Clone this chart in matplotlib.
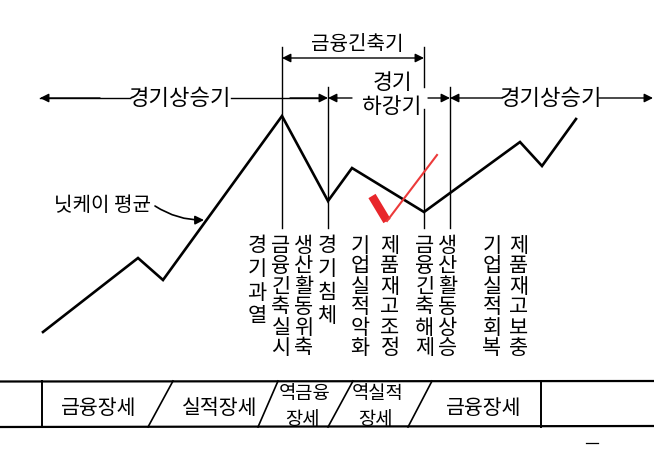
import numpy as np
import matplotlib
matplotlib.use("Agg")
import matplotlib.pyplot as plt

plt.rcParams['font.family'] = ['Noto Sans CJK KR', 'DejaVu Sans']
plt.rcParams['font.weight'] = 'medium'

# 닛케이 평균 꺾은선 (픽셀 좌표계)
nikkei_x = [43, 138, 163, 282, 328, 352, 424, 520, 542, 576]
nikkei_y = [333, 259, 281, 117, 202, 169, 213, 143, 167, 120]

# 국면 경계 세로선: (x, [(y시작, y끝), ...])
boundary_x = [282, 328, 424, 450]
boundary_segs = [[(48, 229)], [(88, 229)], [(48, 88), (110, 229)], [(88, 229)]]

# 세로 글자 이벤트
event_x = [257, 281, 304, 327, 360, 390, 425, 448, 492, 519]
event_labels = ["경기과열", "금융긴축실시", "생산활동위축", "경기침체", "기업실적악화",
                "제품재고조정", "금융긴축해제", "생산활동상승", "기업실적회복", "제품재고보충"]

# 하단 장세 구분
phase_labels = ["금융장세", "실적장세", "역금융\n장세", "역실적\n장세", "금융장세"]
phase_label_x = [99, 220, 305, 378, 484]
slash_top_x = [173, 278, 353, 432]
slash_bot_x = [148, 258, 328, 408]
box_left, box_right = 42, 541

# 체크 표시
check_x = [372, 387, 437]
check_y = [197, 222, 156]

fig = plt.figure(figsize=(6.54, 4.56), dpi=100)
ax = fig.add_axes([0, 0, 1, 1])
ax.set_xlim(0, 654)
ax.set_ylim(456, 0)
ax.axis('off')

K = 'black'

# 꺾은선
ax.plot(nikkei_x, nikkei_y, color=K, lw=1.9, solid_joinstyle='miter')

# 세로선
for x, segs in zip(boundary_x, boundary_segs):
    for y0, y1 in segs:
        ax.plot([x, x], [y0, y1], color=K, lw=1.0)


def arrow(x0, x1, y, style):
    ax.annotate('', xy=(x1, y), xytext=(x0, y),
                arrowprops=dict(arrowstyle=style, color=K, lw=1.0,
                                shrinkA=0, shrinkB=0, mutation_scale=13))


# 금융긴축기
arrow(282, 424, 59, '<|-|>')
ax.text(357, 44, "금융긴축기", ha='center', va='center', fontsize=14.5)

# 경기상승기 (왼쪽)
ax.plot([40, 130], [99, 99], color=K, lw=1.0)
ax.plot([231, 318], [99, 99], color=K, lw=1.0)
arrow(100, 40, 99, '-|>')
arrow(290, 328, 99, '-|>')
ax.text(180, 99, "경기상승기", ha='center', va='center', fontsize=16)

# 경기 하강기
arrow(352, 328, 99, '-|>')
arrow(428, 450, 99, '-|>')
ax.text(392, 83, "경기", ha='center', va='center', fontsize=15.5)
ax.text(392, 107, "하강기", ha='center', va='center', fontsize=15.5)

# 경기상승기 (오른쪽)
arrow(502, 450, 99, '-|>')
arrow(599, 653, 99, '-|>')
ax.text(551, 99, "경기상승기", ha='center', va='center', fontsize=16)

# 닛케이 평균 라벨
ax.text(102, 206, "닛케이 평균", ha='center', va='center', fontsize=14.5)
ax.annotate('', xy=(204, 221), xytext=(155, 207),
            arrowprops=dict(arrowstyle='-|>', color=K, lw=1.2, shrinkA=0, shrinkB=0,
                            mutation_scale=13, connectionstyle='arc3,rad=0.15'))

# 세로 글자
for x, lab in zip(event_x, event_labels):
    step = 23.5 if len(lab) == 4 else 20.5
    for i, ch in enumerate(lab):
        ax.text(x, 246 + i * step, ch, ha='center', va='center', fontsize=15)

# 체크 표시
ax.plot(check_x[:2], check_y[:2], color='#e8262b', lw=6, solid_capstyle='butt')
ax.plot(check_x[1:], check_y[1:], color='#ec3a3a', lw=1.5)

# 하단 박스
ax.plot([0, 654], [382.5, 382], color=K, lw=1.6)
ax.plot([0, 654], [428, 427], color=K, lw=1.6)
for x in (box_left, box_right):
    ax.plot([x, x], [382, 428], color=K, lw=1.4)
for xt, xb in zip(slash_top_x, slash_bot_x):
    ax.plot([xt, xb], [382, 428], color=K, lw=1.2)
for x, lab in zip(phase_label_x, phase_labels):
    if '\n' in lab:
        top, bot = lab.split('\n')
        ax.text(x, 394, top, ha='center', va='center', fontsize=13.5)
        ax.text(x - 3, 420, bot, ha='center', va='center', fontsize=13.5)
    else:
        ax.text(x, 408, lab, ha='center', va='center', fontsize=14.8)

ax.plot([586, 598], [444, 444], color=K, lw=0.9)

fig.savefig("out.png", dpi=100)
